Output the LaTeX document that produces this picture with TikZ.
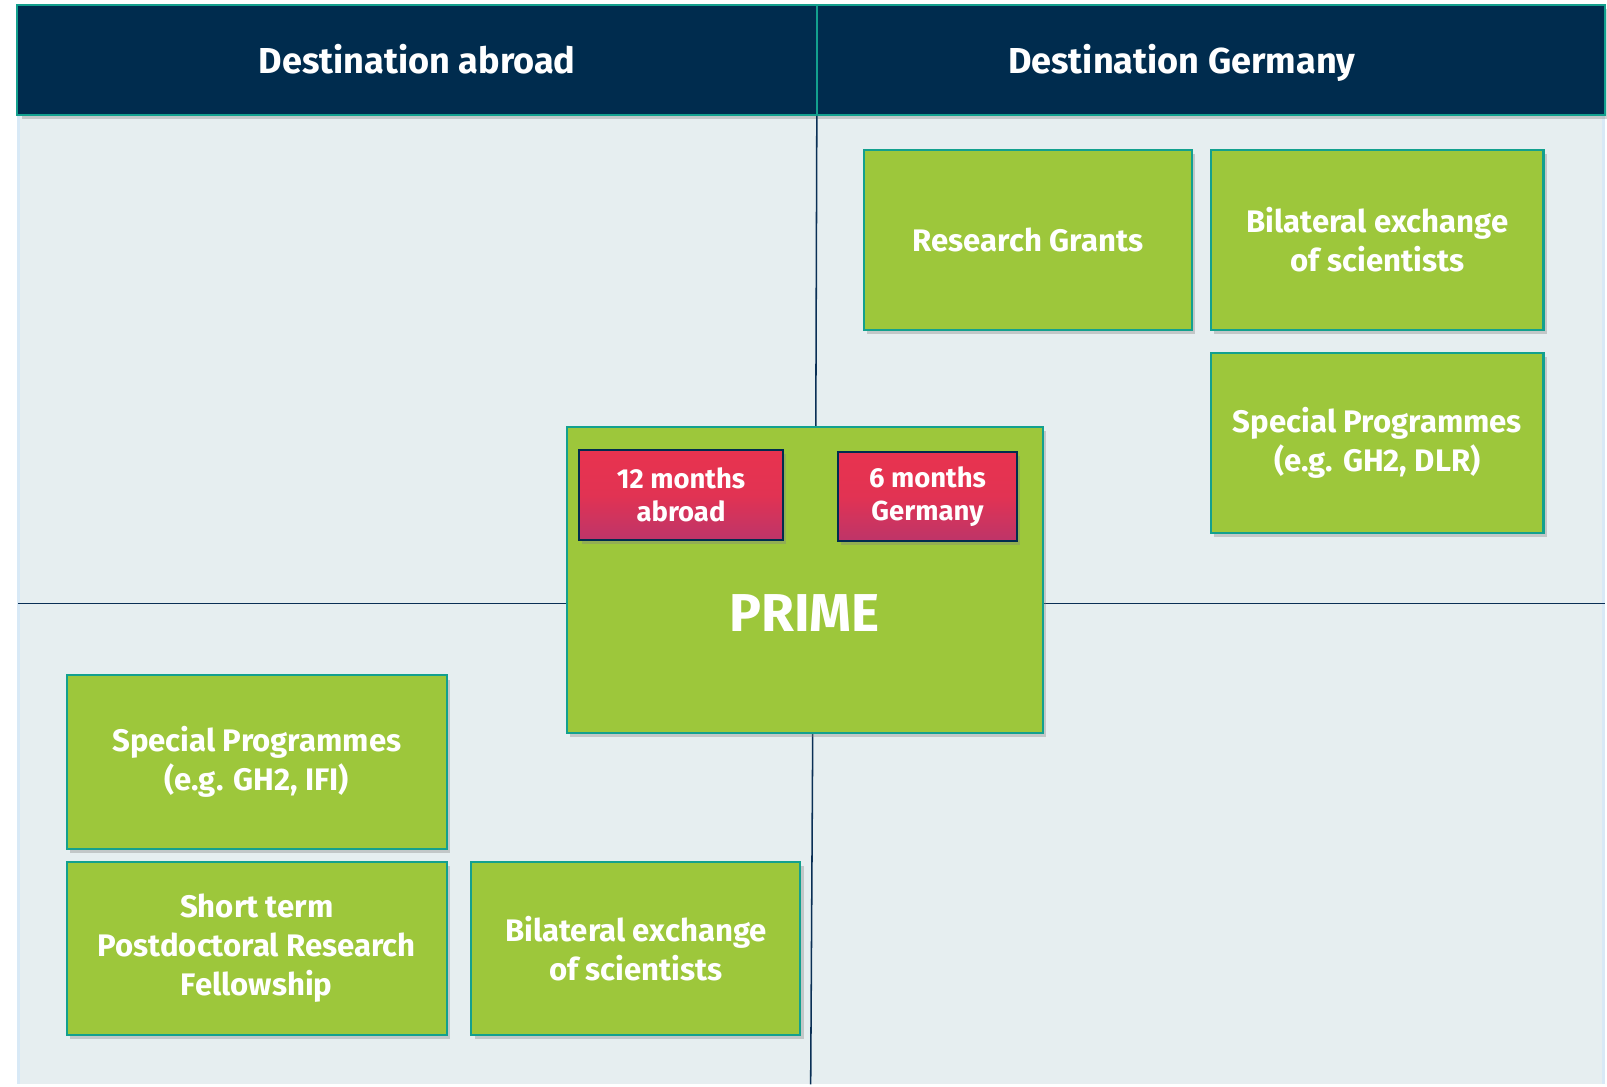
\documentclass[tikz,border=0pt]{standalone}
\usepackage{fontspec}
\setmainfont{Fira Sans}
\usetikzlibrary{shadows}
\definecolor{navy}{HTML}{002C4E}
\definecolor{lineblue}{HTML}{0A2F55}
\definecolor{myteal}{HTML}{13A08E}
\definecolor{panelbg}{HTML}{E6EEF0}
\definecolor{panelstrip}{HTML}{D8E9F6}
\definecolor{boxgreen}{HTML}{9DC73B}
\definecolor{redtop}{HTML}{E8334F}
\definecolor{redbot}{HTML}{BD3469}
\tikzset{
  header/.style={draw=myteal, line width=1pt, fill=navy, drop shadow={shadow xshift=2pt, shadow yshift=-2pt, opacity=0.35}},
  headtext/.style={text=white, anchor=base, font=\fontsize{17.6}{20}\selectfont\bfseries},
  greenbox/.style={draw=myteal, line width=1pt, fill=boxgreen, text=white, align=center, inner sep=0pt,
     font=\fontsize{15.2}{19}\selectfont\bfseries, drop shadow={shadow xshift=1.5pt, shadow yshift=-2pt, opacity=0.35}},
  redbox/.style={draw=navy, line width=1pt, top color=redtop, bottom color=redbot, middle color=redtop!85!redbot, text=white, align=center, inner sep=0pt,
     font=\fontsize{13.4}{16}\selectfont\bfseries, drop shadow={shadow xshift=1.5pt, shadow yshift=-2pt, opacity=0.35}},
  divline/.style={draw=lineblue, line width=0.75pt}
}
\begin{document}
\begin{tikzpicture}[x=0.5pt,y=-0.5pt]
\useasboundingbox (0,0) rectangle (1568,1060);
\fill[white] (0,0) rectangle (1568,1060);
% panel
\fill[panelbg] (17,5) rectangle (1566,1058);
\fill[panelstrip] (17,112) rectangle (20,1058);
\fill[panelstrip] (1563,112) rectangle (1566,1058);
% header
\path[header] (17,5) rectangle (797,112);
\path[header] (797,5) rectangle (1566,112);
\node[headtext] (habroad) at (407,72) {Destination abroad};
\node[headtext] (hgermany) at (1153,72) {Destination Germany};
% dividing lines
\draw[divline] (797,113) -- (796,417);
\draw[divline] (793,715) -- (791,1058);
\draw[divline] (18,589) -- (553,589);
\draw[divline] (1018,589) -- (1566,589);
% green boxes
\node[greenbox, minimum width=160pt, minimum height=88pt] (rg) at (1003,234) {Research Grants};
\node[greenbox, minimum width=162pt, minimum height=88pt] (bilde) at (1344,234) {Bilateral exchange\\of scientists};
\node[greenbox, minimum width=162pt, minimum height=88pt] (spde) at (1344,432) {Special Programmes\\(e.g. GH2, DLR)};
\node[greenbox, minimum width=232.5pt, minimum height=149pt] (prime) at (785.5,566) {};
\node[text=white, font=\fontsize{26}{30}\selectfont\bfseries] (primetext) at (785,598) {PRIME};
\node[greenbox, minimum width=185.5pt, minimum height=84.5pt] (spab) at (250.5,743.5) {Special Programmes\\(e.g. GH2, IFI)};
\node[greenbox, minimum width=185.5pt, minimum height=84.5pt] (short) at (250.5,925.5) {Short term\\Postdoctoral Research\\Fellowship};
\node[greenbox, minimum width=160.5pt, minimum height=84.5pt] (bilab) at (620.5,925.5) {Bilateral exchange\\of scientists};
% red boxes
\node[redbox, minimum width=99.5pt, minimum height=44pt] (twelve) at (664.5,483) {12 months\\abroad};
\node[redbox, minimum width=87pt, minimum height=43.5pt] (six) at (905,484.5) {6 months\\Germany};
\end{tikzpicture}
\end{document}
